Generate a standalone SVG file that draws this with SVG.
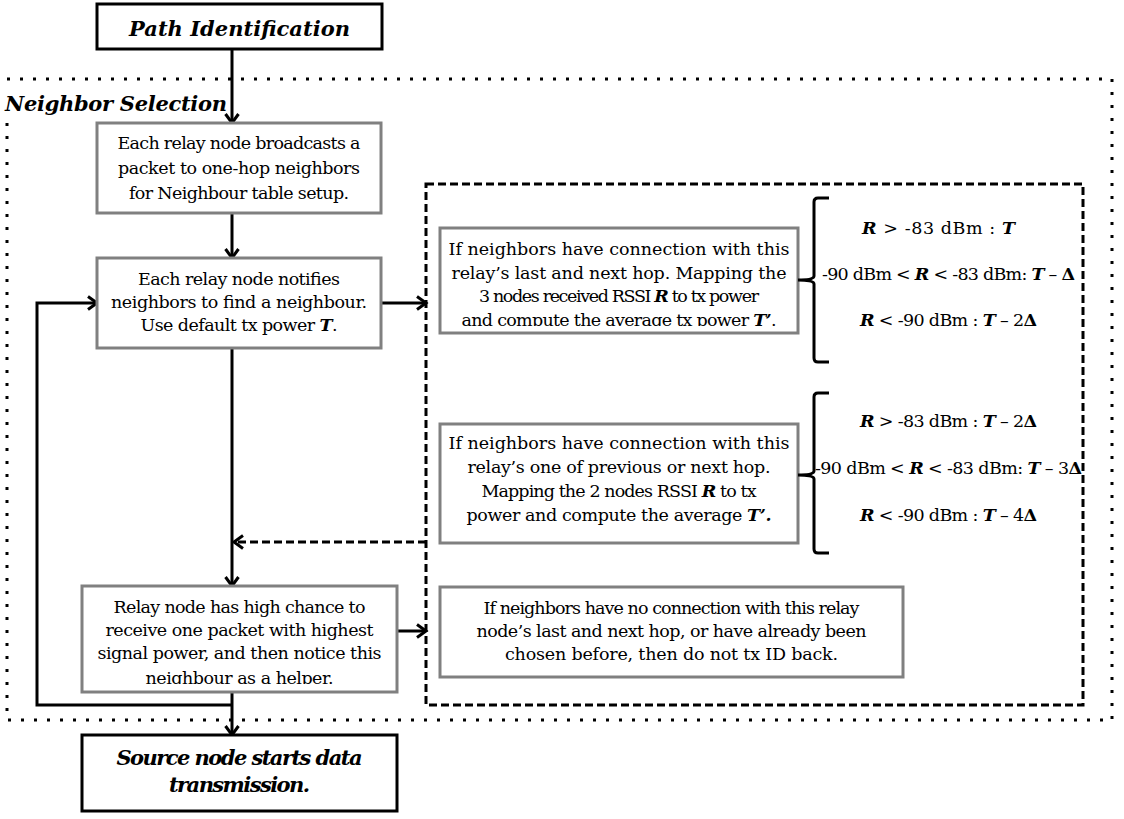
<svg xmlns="http://www.w3.org/2000/svg" width="1124" height="819" viewBox="0 0 1124 819">
<style>
.body{font-family:"DejaVu Serif","Liberation Serif",serif;font-size:17.5px;fill:#000;text-anchor:middle}
.math{font-family:"DejaVu Serif","Liberation Serif",serif;font-size:17.5px;fill:#000;text-anchor:start}
.bi{font-weight:bold;font-style:italic}
.b{font-weight:bold}
.title{font-family:"DejaVu Serif","Liberation Serif",serif;font-size:21px;font-weight:bold;font-style:italic;fill:#000;text-anchor:middle}
.gbox{fill:#fff;stroke:#808080;stroke-width:3}
.kbox{fill:#fff;stroke:#000;stroke-width:3}
.conn{fill:none;stroke:#000;stroke-width:3}
.dash{stroke-dasharray:8 4}
.brace{fill:none;stroke:#000;stroke-width:3}
</style>
<defs>
<marker id="ah" markerUnits="userSpaceOnUse" markerWidth="14" markerHeight="16" refX="11" refY="8" orient="auto">
<path d="M2,1.5 L11,8 L2,14.5" fill="none" stroke="#000" stroke-width="3"/>
</marker>
<clipPath id="clip3"><rect x="82" y="586" width="316" height="98"/></clipPath>
<clipPath id="clipA"><rect x="440" y="228" width="358" height="98"/></clipPath>
</defs>
<rect width="1124" height="819" fill="#fff"/>

<g id="neighbor-selection">
<rect x="7" y="79" width="1105" height="641" fill="none" stroke="#000" stroke-width="3" stroke-dasharray="3 10"/>
<rect x="3" y="84" width="223" height="33" fill="#fff"/>
<text class="title" x="5" y="111" style="text-anchor:start" textLength="222">Neighbor Selection</text>
</g>

<g id="options-region">
<rect x="426" y="184" width="657" height="521" fill="none" stroke="#000" stroke-width="3" stroke-dasharray="8 4"/>
</g>

<g id="connectors">
<line class="conn" x1="232" y1="49" x2="232" y2="123" marker-end="url(#ah)"/>
<line class="conn" x1="232" y1="213" x2="232" y2="258" marker-end="url(#ah)"/>
<line class="conn" x1="232" y1="348" x2="232" y2="586" marker-end="url(#ah)"/>
<line class="conn" x1="232" y1="692" x2="232" y2="735" marker-end="url(#ah)"/>
<polyline class="conn" points="232,705 37,705 37,303 97,303" marker-end="url(#ah)"/>
<line class="conn" x1="382" y1="303" x2="426" y2="303" marker-end="url(#ah)"/>
<line class="conn" x1="397" y1="631" x2="426" y2="631" marker-end="url(#ah)"/>
<line class="conn dash" x1="426" y1="542" x2="234" y2="542" marker-end="url(#ah)"/>
</g>

<g id="path-identification">
<rect class="kbox" x="97" y="4" width="285" height="45"/>
<text class="title" x="239.5" y="36" textLength="221">Path Identification</text>
</g>

<g id="broadcast">
<rect class="gbox" x="97" y="123" width="284" height="90"/>
<text class="body" x="239" y="149" textLength="243">Each relay node broadcasts a</text>
<text class="body" x="239" y="174" textLength="242">packet to one-hop neighbors</text>
<text class="body" x="239" y="199" textLength="220">for Neighbour table setup.</text>
</g>

<g id="notify">
<rect class="gbox" x="97" y="258" width="284" height="90"/>
<text class="body" x="239" y="285" textLength="202">Each relay node notifies</text>
<text class="body" x="239" y="308" textLength="256">neighbors to find a neighbour.</text>
<text class="body" x="239" y="331" textLength="197">Use default tx power <tspan class="bi">T</tspan>.</text>
</g>

<g id="receive">
<rect class="gbox" x="82" y="586" width="315" height="106"/>
<text class="body" x="239.5" y="613" textLength="252">Relay node has high chance to</text>
<text class="body" x="239.5" y="636" textLength="268">receive one packet with highest</text>
<text class="body" x="239.5" y="659" textLength="284">signal power, and then notice this</text>
<text class="body" x="239.5" y="684" textLength="188" clip-path="url(#clip3)">neighbour as a helper.</text>
</g>

<g id="source">
<rect class="kbox" x="82" y="735" width="315" height="76"/>
<text class="title" x="239.5" y="765" textLength="246">Source node starts data</text>
<text class="title" x="239.5" y="792" textLength="141">transmission.</text>
</g>

<g id="case-both">
<rect class="gbox" x="440" y="228" width="358" height="105"/>
<text class="body" x="619" y="255" textLength="341">If neighbors have connection with this</text>
<text class="body" x="619" y="279" textLength="335">relay’s last and next hop. Mapping the</text>
<text class="body" x="619" y="302" textLength="280">3 nodes received RSSI <tspan class="bi">R</tspan> to tx power</text>
<text class="body" x="619" y="326" textLength="315" clip-path="url(#clipA)">and compute the average tx power <tspan class="bi">T’</tspan>.</text>
</g>

<g id="rule-both">
<path class="brace" d="M829,198 L818,198 Q814,198 814,202 L814,276 Q814,280 798,280 Q814,280 814,284 L814,358 Q814,362 818,362 L829,362"/>
<text class="math" x="862" y="234" textLength="153"><tspan class="bi">R</tspan> &gt; -83 dBm : <tspan class="bi">T</tspan></text>
<text class="math" x="822" y="280" textLength="253">-90 dBm &lt; <tspan class="bi">R</tspan> &lt; -83 dBm: <tspan class="bi">T</tspan> – <tspan class="b">Δ</tspan></text>
<text class="math" x="860" y="326" textLength="177"><tspan class="bi">R</tspan> &lt; -90 dBm : <tspan class="bi">T</tspan> – 2<tspan class="b">Δ</tspan></text>
</g>

<g id="case-one">
<rect class="gbox" x="440" y="424" width="358" height="119"/>
<text class="body" x="619" y="449" textLength="341">If neighbors have connection with this</text>
<text class="body" x="619" y="473" textLength="303">relay’s one of previous or next hop.</text>
<text class="body" x="619" y="497" textLength="275">Mapping the 2 nodes RSSI <tspan class="bi">R</tspan> to tx</text>
<text class="body" x="619" y="521" textLength="305">power and compute the average <tspan class="bi">T’.</tspan></text>
</g>

<g id="rule-one">
<path class="brace" d="M829,393 L818,393 Q814,393 814,397 L814,471 Q814,475 798,475 Q814,475 814,479 L814,549 Q814,553 818,553 L829,553"/>
<text class="math" x="860" y="427" textLength="177"><tspan class="bi">R</tspan> &gt; -83 dBm : <tspan class="bi">T</tspan> – 2<tspan class="b">Δ</tspan></text>
<text class="math" x="815" y="474" textLength="267">-90 dBm &lt; <tspan class="bi">R</tspan> &lt; -83 dBm: <tspan class="bi">T</tspan> – 3<tspan class="b">Δ</tspan></text>
<text class="math" x="860" y="521" textLength="177"><tspan class="bi">R</tspan> &lt; -90 dBm : <tspan class="bi">T</tspan> – 4<tspan class="b">Δ</tspan></text>
</g>

<g id="case-none">
<rect class="gbox" x="440" y="587" width="463" height="90"/>
<text class="body" x="671.5" y="614" textLength="376">If neighbors have no connection with this relay</text>
<text class="body" x="671.5" y="637" textLength="390">node’s last and next hop, or have already been</text>
<text class="body" x="671.5" y="660" textLength="333">chosen before, then do not tx ID back.</text>
</g>
</svg>
